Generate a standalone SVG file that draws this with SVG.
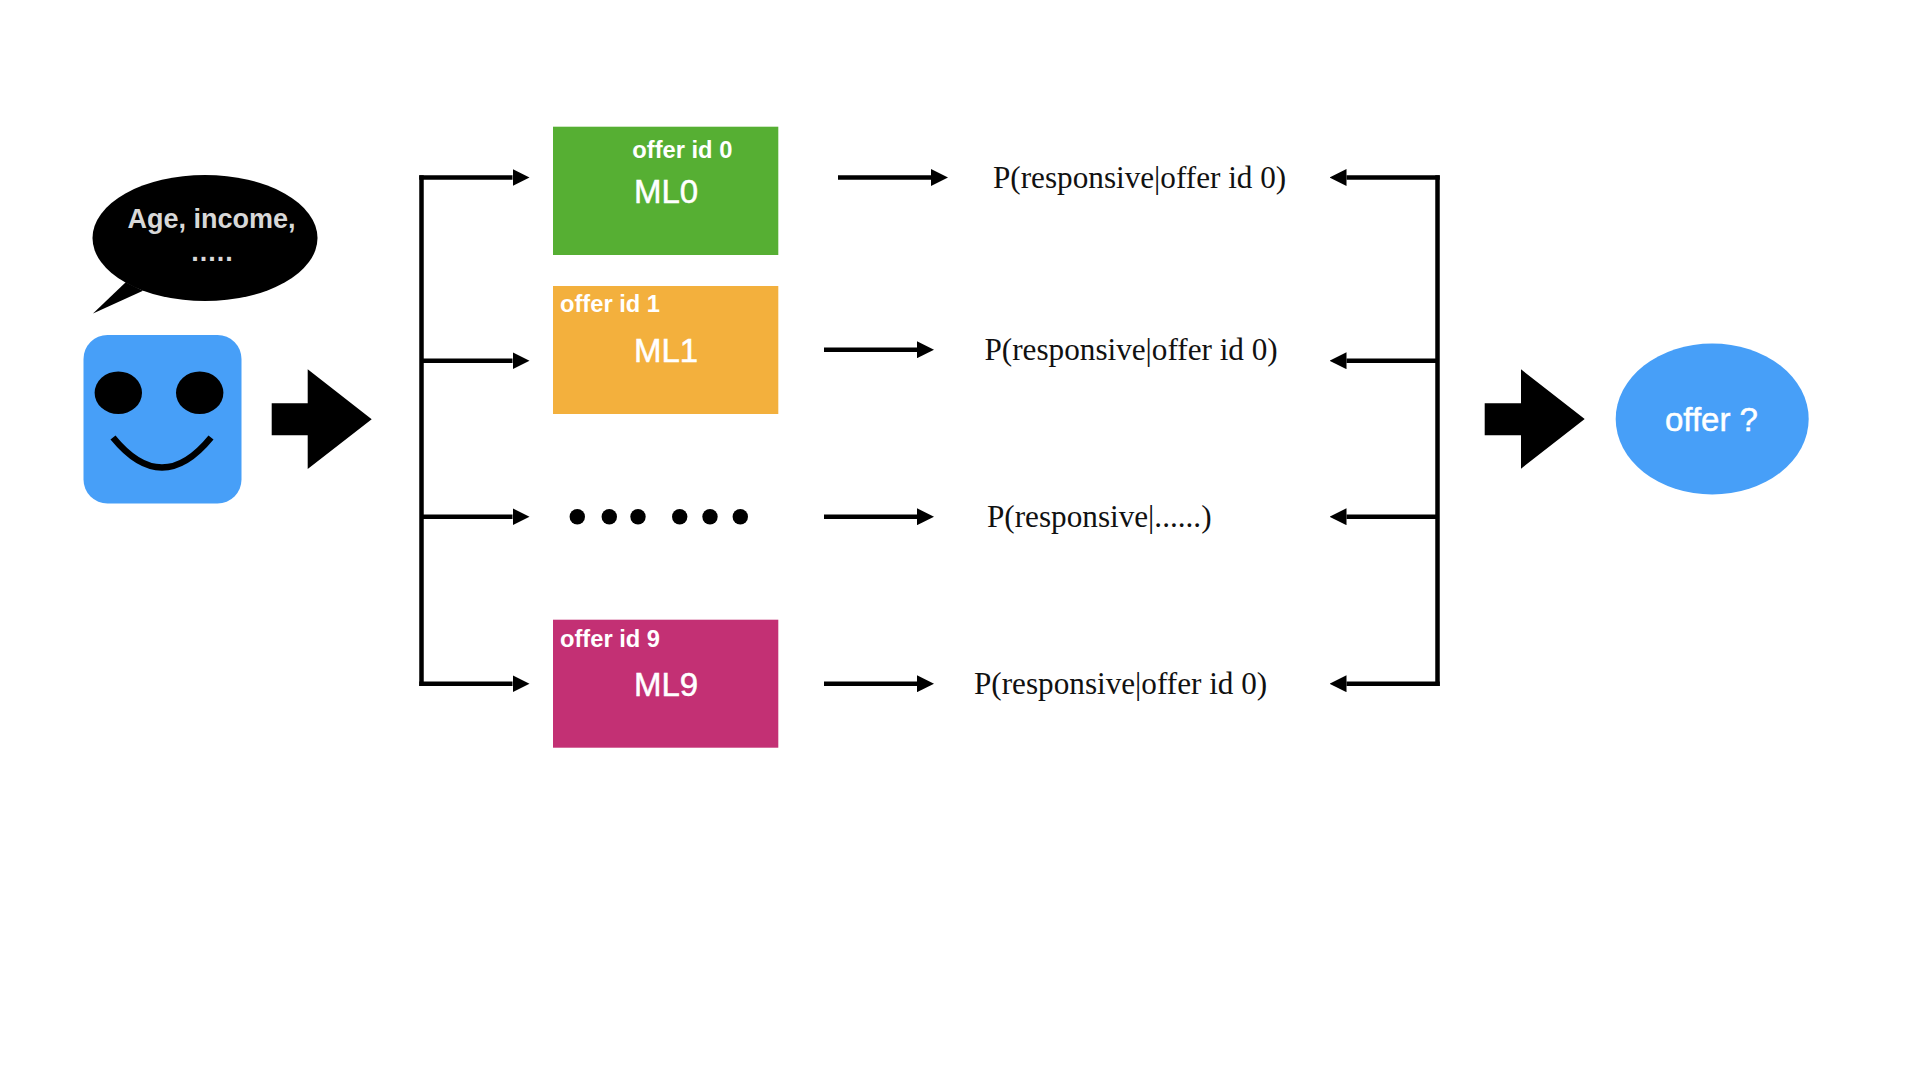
<svg xmlns="http://www.w3.org/2000/svg" width="1920" height="1080" viewBox="0 0 1920 1080">
<style>
.c{fill:none;stroke:#000;stroke-width:4.5}
.a{marker-end:url(#h)}
.s{font-family:"Liberation Sans",Arial,sans-serif;fill:#fff}
.l{font-size:23.7px;font-weight:bold}
.m{font-size:33px;stroke:#fff;stroke-width:.5px}
.p{font-family:"Liberation Serif","Times New Roman",serif;font-size:31.2px;fill:#111}
.g{font-size:27px;font-weight:bold;fill:#d8d8d8}
</style>
<defs>
<marker id="h" markerUnits="userSpaceOnUse" markerWidth="17" markerHeight="17" refX="0" refY="8.5" orient="auto"><path d="M0,0L17,8.5L0,17z" fill="#000"/></marker>
</defs>
<rect width="1920" height="1080" fill="#fff"/>
<g id="bubble">
<ellipse cx="205" cy="238" rx="112.5" ry="63" fill="#000"/>
<path d="M125.7,282.3L93,313.5L143,290.7z" fill="#000"/>
<text class="s g" x="211.5" y="228" text-anchor="middle">Age, income,</text>
<text class="s g" x="212.5" y="260.7" text-anchor="middle" letter-spacing="1">.....</text>
</g>
<g id="face">
<rect x="83.5" y="335" width="158" height="168.5" rx="24" fill="#479ff8"/>
<ellipse cx="118.3" cy="392.8" rx="23.7" ry="21.3" fill="#000"/>
<ellipse cx="199.7" cy="392.8" rx="23.7" ry="21.3" fill="#000"/>
<path d="M113,437.5Q162,497.5 211,437.5" fill="none" stroke="#000" stroke-width="6.5"/>
</g>
<g id="arrow-in"><path d="M271.7,403.3H307.7V369.3L371.7,419.3L307.7,469V435.3H271.7z" fill="#000"/></g>
<g id="ml0">
<rect x="553" y="126.7" width="225.3" height="128.3" fill="#56af33"/>
<text class="s l" x="632.3" y="157.7">offer id 0</text>
<text class="s m" x="634" y="203">ML0</text>
</g>
<g id="ml1">
<rect x="553" y="286" width="225.3" height="128" fill="#f3b03d"/>
<text class="s l" x="560" y="311.7">offer id 1</text>
<text class="s m" x="634" y="362">ML1</text>
</g>
<g id="ellipsis">
<circle cx="577.3" cy="516.7" r="7.7"/><circle cx="609.3" cy="516.7" r="7.7"/><circle cx="638" cy="516.7" r="7.7"/><circle cx="679.7" cy="516.7" r="7.7"/><circle cx="710" cy="516.7" r="7.7"/><circle cx="740.3" cy="516.7" r="7.7"/>
</g>
<g id="ml9">
<rect x="553" y="619.7" width="225.3" height="128" fill="#c33074"/>
<text class="s l" x="560" y="647">offer id 9</text>
<text class="s m" x="634" y="696">ML9</text>
</g>
<g id="connectors">
<path class="c" d="M421.5,175.25V685.95"/>
<path class="c a" d="M419.25,177.5H512.5"/>
<path class="c a" d="M421.5,360.7H512.5"/>
<path class="c a" d="M421.5,516.7H512.5"/>
<path class="c a" d="M419.25,683.7H512.5"/>
<path class="c a" d="M838,177.5H931"/>
<path class="c a" d="M824,349.7H917"/>
<path class="c a" d="M824,516.7H917"/>
<path class="c a" d="M824,683.7H917"/>
<path class="c" d="M1437.5,175.25V685.95"/>
<path class="c a" d="M1439.75,177.5H1346.5"/>
<path class="c a" d="M1437.5,360.7H1346.5"/>
<path class="c a" d="M1437.5,516.7H1346.5"/>
<path class="c a" d="M1439.75,683.7H1346.5"/>
</g>
<g id="p0"><text class="p" x="993" y="188">P(responsive|offer id 0)</text></g>
<g id="p1"><text class="p" x="984.5" y="360.3">P(responsive|offer id 0)</text></g>
<g id="p2"><text class="p" x="987" y="527">P(responsive|......)</text></g>
<g id="p9"><text class="p" x="974" y="694">P(responsive|offer id 0)</text></g>
<g id="arrow-out"><path d="M1484.7,403.3H1521V369.3L1584.7,419L1521,468.7V435.3H1484.7z" fill="#000"/></g>
<g id="offer">
<ellipse cx="1712.2" cy="419" rx="96.5" ry="75.5" fill="#479ff8"/>
<text class="s m" x="1711.5" y="430.5" text-anchor="middle">offer ?</text>
</g>
</svg>
